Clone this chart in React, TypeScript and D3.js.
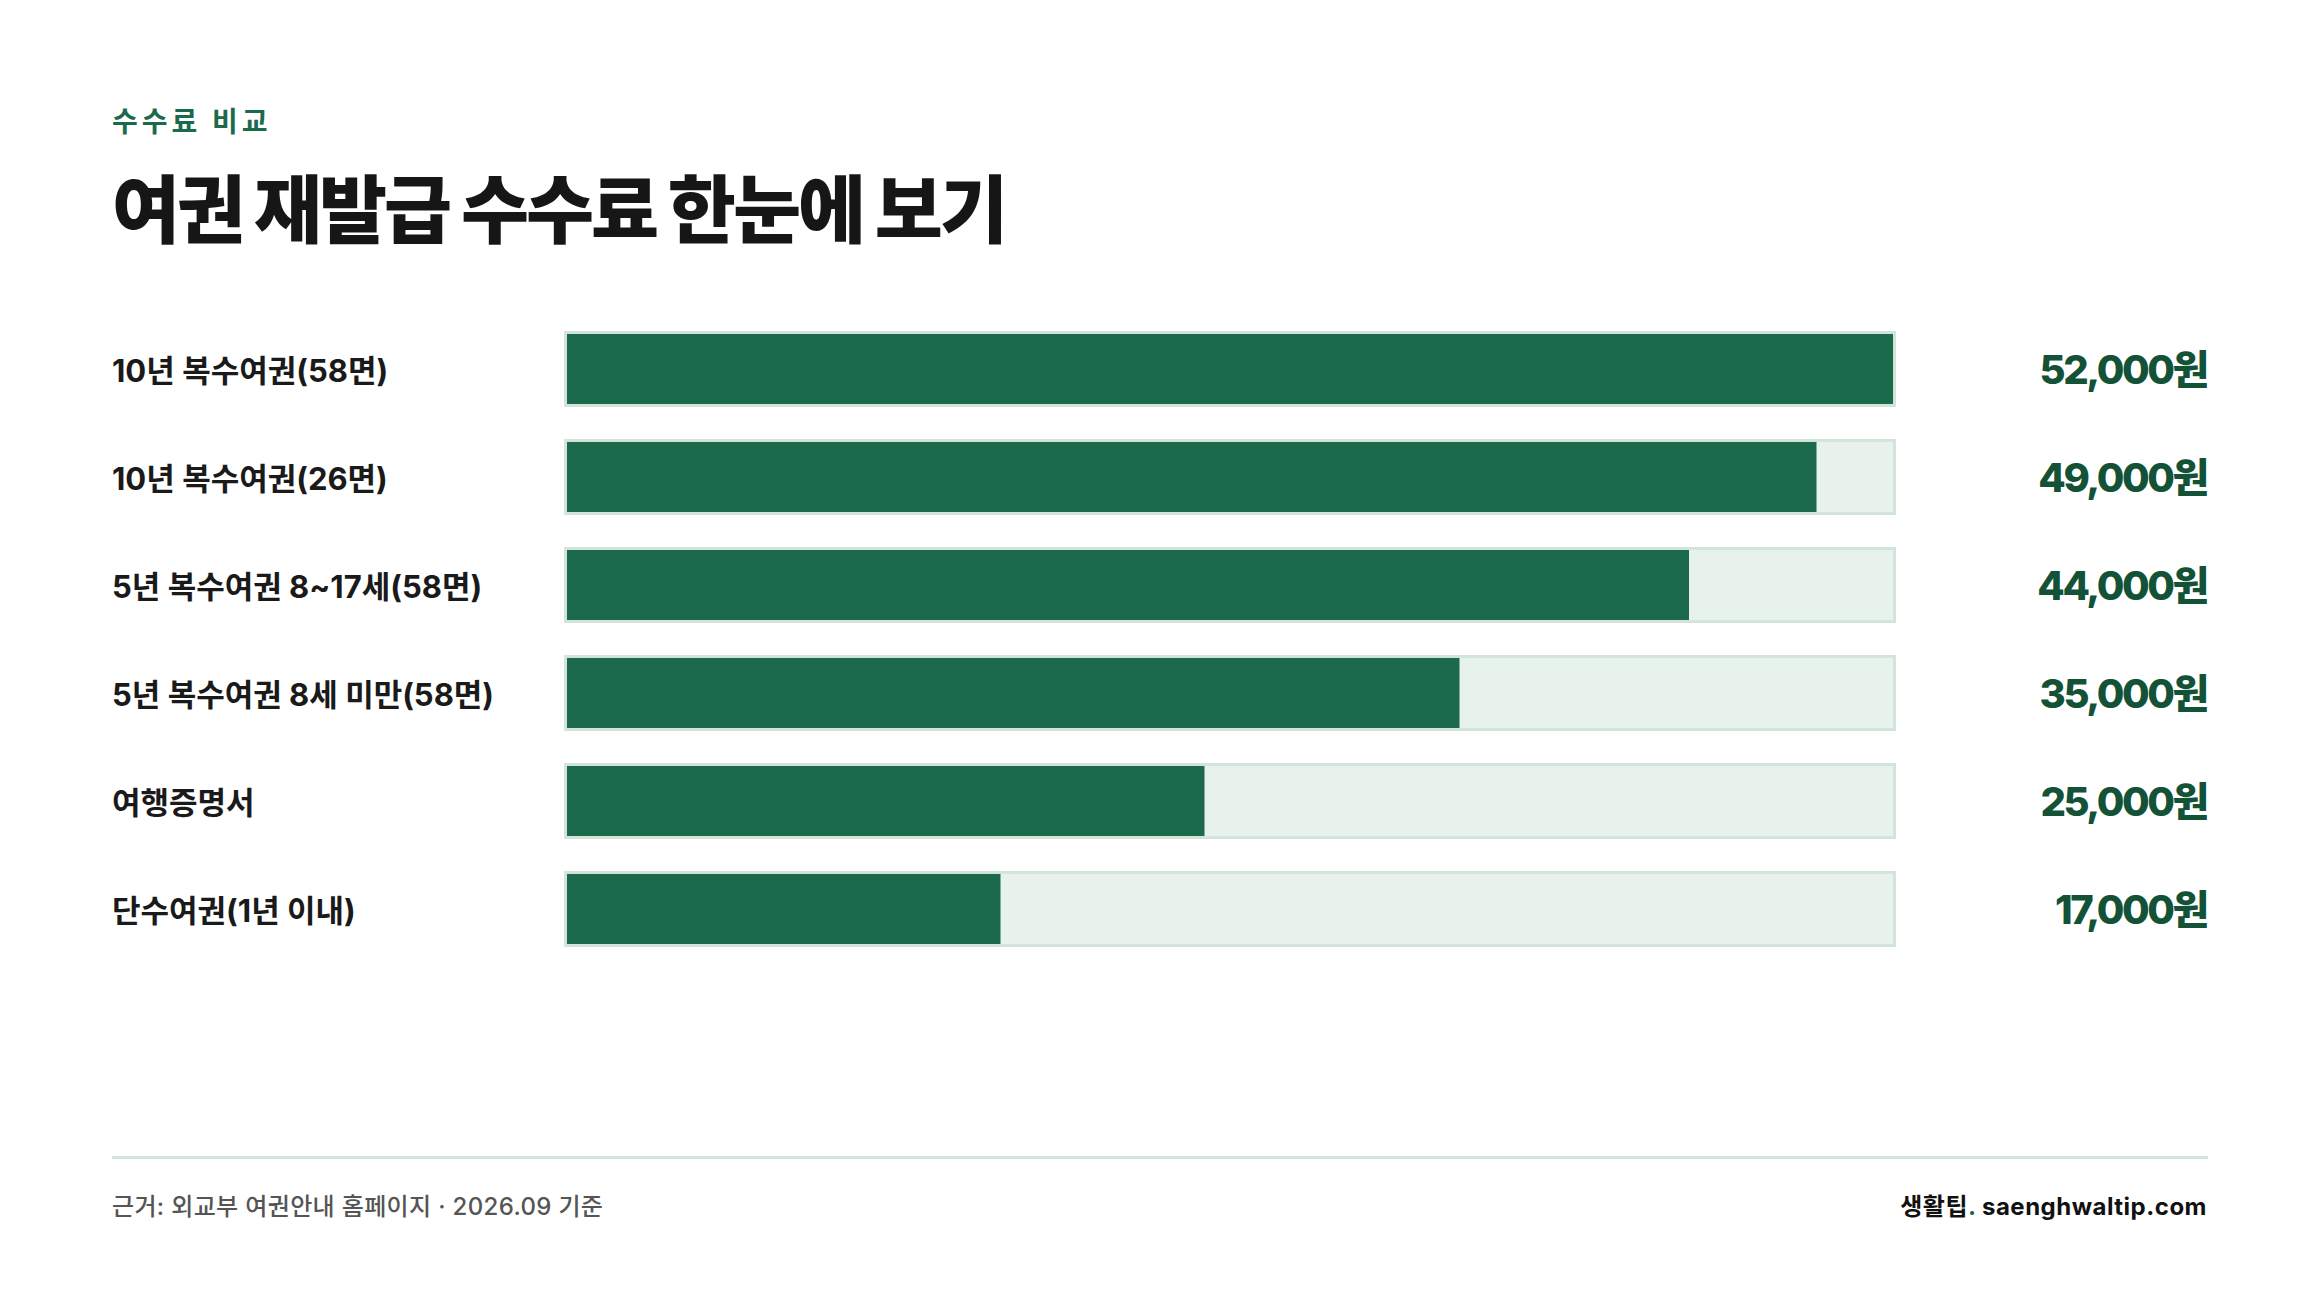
import React from "react";
import * as d3 from "d3";

const categories: string[] = [
  "10년 복수여권(58면)",
  "10년 복수여권(26면)",
  "5년 복수여권 8~17세(58면)",
  "5년 복수여권 8세 미만(58면)",
  "여행증명서",
  "단수여권(1년 이내)",
];
const fees: number[] = [52000, 49000, 44000, 35000, 25000, 17000];
const eyebrow = "수수료 비교";
const title = "여권 재발급 수수료 한눈에 보기";
const source = "근거: 외교부 여권안내 홈페이지 · 2026.09 기준";
const brandKo = "생활팁";
const brandSite = " saenghwaltip.com";

const W = 2320;
const H = 1302;
const FONT = "Inter, 'Noto Sans CJK KR', 'Noto Sans', sans-serif";
const DARK = "#1b6a4b";
const TRACK = "#e8f2ec";
const BORDER = "#d3e5db";
const VALUE = "#135237";

export default function App() {
  const x = d3.scaleLinear().domain([0, d3.max(fees) as number]).range([567, 1893]);
  const y = d3
    .scaleBand<string>()
    .domain(categories)
    .range([331, 947])
    .paddingInner(32 / 108)
    .paddingOuter(0);
  const bh = y.bandwidth();
  const b = 3;
  const fmt = d3.format(",");

  return (
    <svg
      width={W}
      height={H}
      viewBox={`0 0 ${W} ${H}`}
      style={{ position: "absolute", left: 0, top: 0, background: "#fff" }}
      fontFamily={FONT}
    >
      <rect x={0} y={0} width={W} height={H} fill="#fff" />
      <text
        x={112}
        y={121.5}
        dominantBaseline="central"
        fontSize={28}
        fontWeight={700}
        fill={DARK}
        letterSpacing={4}
      >
        {eyebrow}
      </text>
      <text
        x={112}
        y={210}
        dominantBaseline="central"
        fontSize={74}
        fontWeight={900}
        fill="#161616"
        letterSpacing={-3}
      >
        {title}
      </text>

      {categories.map((c, i) => {
        const y0 = y(c) as number;
        const cy = y0 + bh / 2;
        return (
          <g key={c}>
            <text
              x={112}
              y={cy + 1}
              dominantBaseline="central"
              fontSize={31}
              fontWeight={700}
              fill="#1a1a1a"
              letterSpacing={0}
            >
              {c}
            </text>
            <rect
              x={x(0) - b / 2}
              y={y0 + b / 2}
              width={x.range()[1] - x(0) + b}
              height={bh - b}
              fill={TRACK}
              stroke={BORDER}
              strokeWidth={b}
            />
            <rect
              x={x(0)}
              y={y0 + b}
              width={x(fees[i]) - x(0)}
              height={bh - 2 * b}
              fill={DARK}
            />
            <text
              x={2207}
              y={cy}
              dominantBaseline="central"
              textAnchor="end"
              fontSize={40}
              fontWeight={800}
              fill={VALUE}
              letterSpacing={-2.4}
            >
              {fmt(fees[i]) + "원"}
            </text>
          </g>
        );
      })}

      <line x1={112} x2={2208} y1={1157.5} y2={1157.5} stroke={BORDER} strokeWidth={3} />
      <text
        x={112}
        y={1206}
        dominantBaseline="central"
        fontSize={24}
        fontWeight={500}
        fill="#555"
        letterSpacing={0.35}
      >
        {source}
      </text>
      <text
        x={2207}
        y={1206}
        dominantBaseline="central"
        textAnchor="end"
        fontSize={24}
        fontWeight={700}
        fill="#111"
        letterSpacing={0.5}
      >
        {brandKo}
        <tspan fill={DARK}>.</tspan>
        {brandSite}
      </text>
    </svg>
  );
}
